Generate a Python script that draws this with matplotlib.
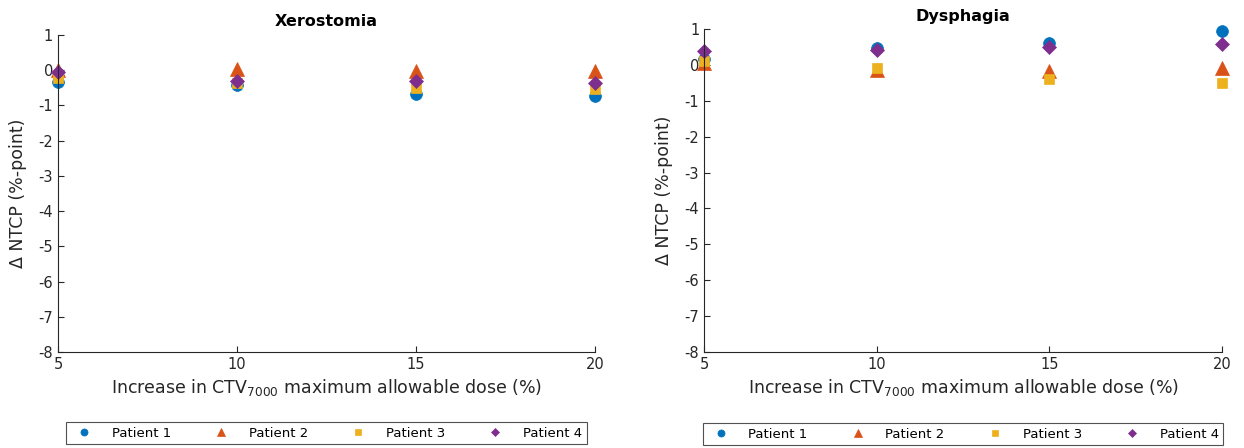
import matplotlib.pyplot as plt

increase = [5, 10, 15, 20]
patients = ["Patient 1", "Patient 2", "Patient 3", "Patient 4"]

xero = {
    "Patient 1": [-0.35, -0.42, -0.68, -0.75],
    "Patient 2": [0.0, 0.02, -0.02, -0.02],
    "Patient 3": [-0.23, -0.38, -0.52, -0.55],
    "Patient 4": [-0.06, -0.3, -0.32, -0.37],
}
dysph = {
    "Patient 1": [0.15, 0.46, 0.62, 0.95],
    "Patient 2": [0.05, -0.14, -0.18, -0.1],
    "Patient 3": [0.12, -0.1, -0.4, -0.5],
    "Patient 4": [0.38, 0.41, 0.5, 0.57],
}

colors = ["#0072BD", "#D95319", "#EDB120", "#7E2F8E"]
markers = ["o", "^", "s", "D"]
msizes = [8.5, 9.5, 6.5, 7.5]

plt.rcParams["font.family"] = "DejaVu Sans"
fig = plt.figure(figsize=(12.44, 4.48), dpi=100)
ax1 = fig.add_axes([0.0466, 0.2143, 0.4317, 0.708])
ax2 = fig.add_axes([0.566, 0.2143, 0.4164, 0.721])

for ax, data, title in [(ax1, xero, "Xerostomia"), (ax2, dysph, "Dysphagia")]:
    for p, c, m, s in zip(patients, colors, markers, msizes):
        ax.plot(increase, data[p], linestyle="none", marker=m, color=c,
                markersize=s, markeredgewidth=0.5, markeredgecolor=c,
                clip_on=False, label=p)
    ax.set_xlim(5, 20)
    ax.set_ylim(-8, 1)
    ax.set_xticks([5, 10, 15, 20])
    ax.set_yticks(range(-8, 2))
    ax.set_yticklabels([str(v) for v in range(-8, 2)])
    for side in ["top", "right"]:
        ax.spines[side].set_visible(False)
    for side in ["left", "bottom"]:
        ax.spines[side].set_color("#262626")
        ax.spines[side].set_linewidth(0.8)
    ax.tick_params(direction="in", length=4, width=0.8, colors="#262626",
                   labelsize=10.5)
    ax.set_xlabel("Increase in CTV$_{7000}$ maximum allowable dose (%)",
                  fontsize=12.5, color="#262626", labelpad=4)
    ax.set_ylabel("\u0394 NTCP (%-point)", fontsize=12.5, color="#262626",
                  labelpad=8)
    ax.set_title(title, fontsize=11.5, fontweight="bold", pad=6)
    leg = ax.legend(loc="upper center", bbox_to_anchor=(0.5, -0.2), ncol=4,
                    frameon=True, fancybox=False, edgecolor="#262626",
                    fontsize=9.5, markerscale=0.6, handletextpad=1.1,
                    columnspacing=2.8, borderpad=0.35)
    leg.get_frame().set_linewidth(0.8)

fig.savefig("out.png", dpi=100)
